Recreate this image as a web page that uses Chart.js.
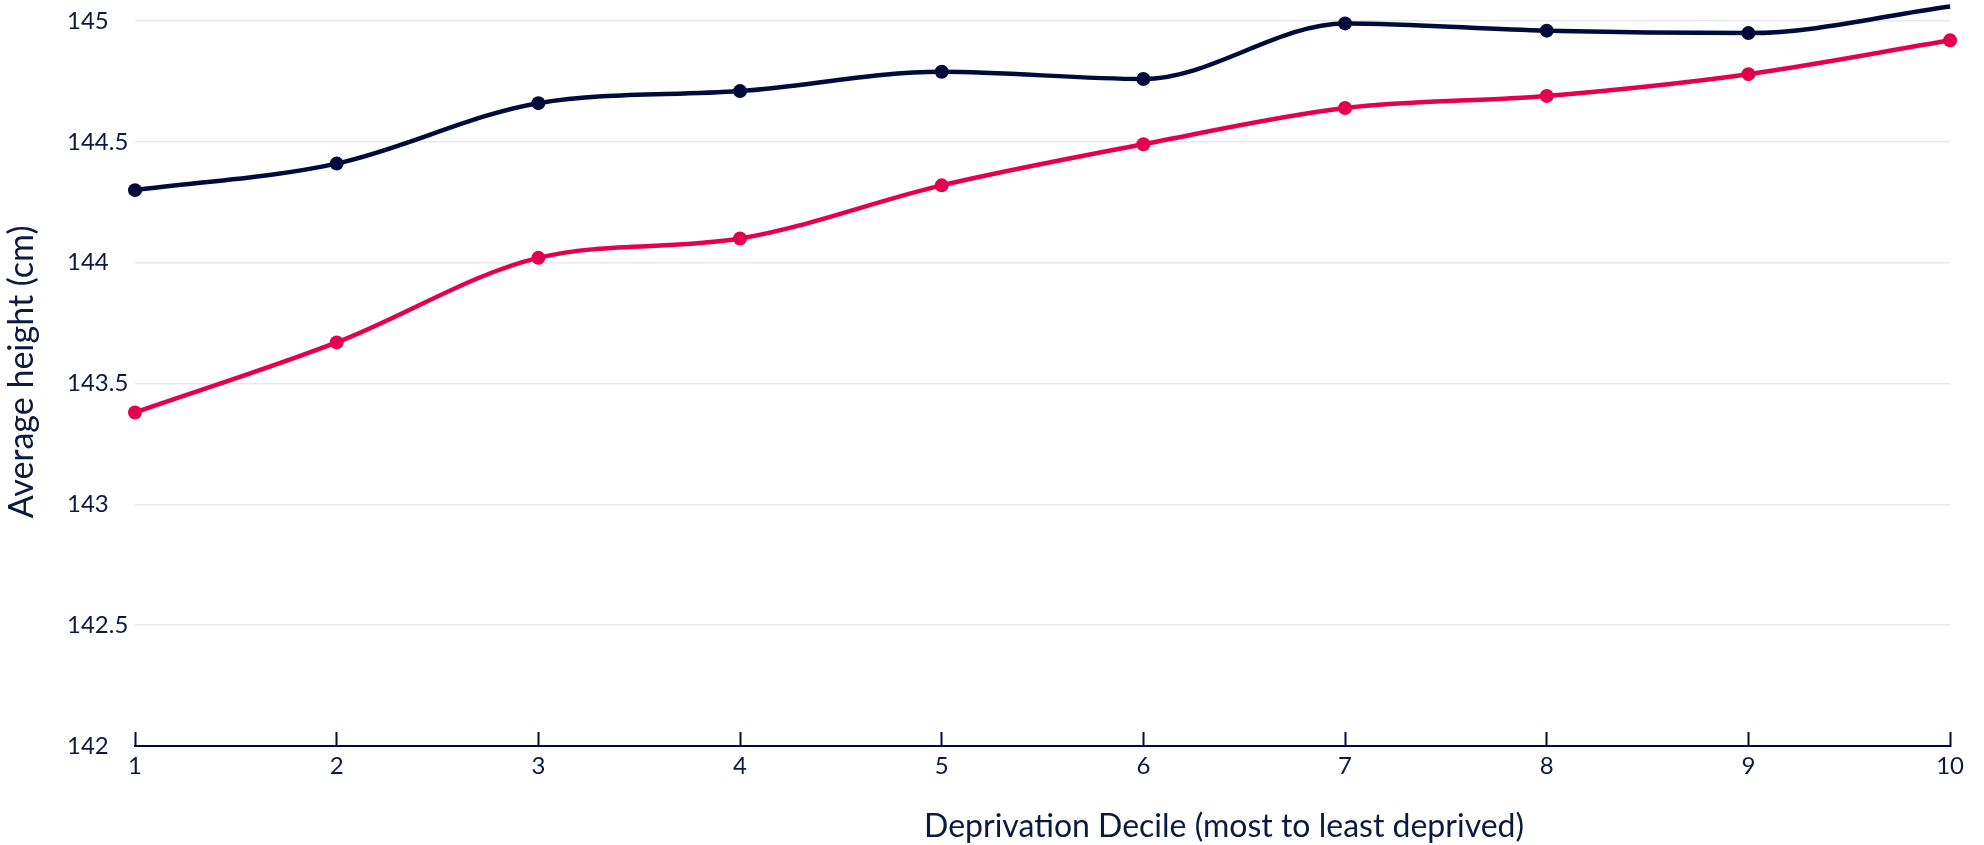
<!DOCTYPE html>
<html>
<head>
<meta charset="utf-8">
<script src="https://cdn.jsdelivr.net/npm/chart.js@4.4.1/dist/chart.umd.min.js"></script>
<style>
  html, body { margin: 0; padding: 0; background: #ffffff; }
  #wrap { width: 1984px; height: 845px; position: relative; }
</style>
</head>
<body>
<div id="wrap"><canvas id="c" width="1984" height="845"></canvas></div>
<script>
const deciles = ['1', '2', '3', '4', '5', '6', '7', '8', '9', '10'];
const seriesNavy = [144.30, 144.41, 144.66, 144.71, 144.79, 144.76, 144.99, 144.96, 144.95, 145.06];
const seriesRed = [143.38, 143.67, 144.02, 144.10, 144.32, 144.49, 144.64, 144.69, 144.78, 144.92];
const yMin = 142;
const yMax = 145;
const yStep = 0.5;
const xTitle = 'Deprivation Decile (most to least deprived)';
const yTitle = 'Average height (cm)';

const NAVY = '#000b3b';
const RED = '#e5004c';
const TEXT = '#0b1a3e';
const FONT = 'Lato';

const titlePlugin = {
  id: 'axisTitles',
  afterDraw(chart) {
    const ctx = chart.ctx;
    const area = chart.chartArea;
    ctx.save();
    ctx.fillStyle = TEXT;
    ctx.textAlign = 'center';
    ctx.textBaseline = 'alphabetic';
    ctx.font = '32px ' + FONT;
    ctx.fillText(xTitle, area.left + (area.right - area.left) * 0.6, 837);
    ctx.font = '34px ' + FONT;
    ctx.translate(33, area.top + (area.bottom - area.top) * 0.484);
    ctx.rotate(-Math.PI / 2);
    ctx.fillText(yTitle, 0, 0);
    ctx.restore();
  }
};

new Chart(document.getElementById('c'), {
  type: 'line',
  data: {
    labels: deciles,
    datasets: [
      {
        label: 'Series 1',
        data: seriesNavy,
        borderColor: NAVY,
        backgroundColor: NAVY,
        borderWidth: 4.5,
        pointRadius: 7,
        pointBorderWidth: 0,
        pointBackgroundColor: NAVY,
        cubicInterpolationMode: 'monotone',
        clip: false
      },
      {
        label: 'Series 2',
        data: seriesRed,
        borderColor: RED,
        backgroundColor: RED,
        borderWidth: 4.5,
        pointRadius: 7,
        pointBorderWidth: 0,
        pointBackgroundColor: RED,
        cubicInterpolationMode: 'monotone',
        clip: false
      }
    ]
  },
  options: {
    responsive: false,
    animation: false,
    devicePixelRatio: 1,
    layout: { padding: { left: 67, top: 21, right: 30, bottom: 0 } },
    plugins: {
      legend: { display: false },
      tooltip: { enabled: false },
      title: { display: false }
    },
    scales: {
      x: {
        type: 'category',
        offset: false,
        border: { display: true, color: NAVY, width: 2 },
        grid: {
          display: true,
          drawOnChartArea: false,
          drawTicks: true,
          tickLength: -14,
          tickWidth: 2,
          tickColor: NAVY,
          color: NAVY
        },
        ticks: {
          color: TEXT,
          font: { family: FONT, size: 24 },
          padding: 20,
          maxRotation: 0,
          autoSkip: false
        },
        afterFit(scale) { scale.height = 99; }
      },
      y: {
        min: yMin,
        max: yMax,
        border: { display: false },
        grid: {
          color: (c) => (c.tick && c.tick.value === yMin) ? 'rgba(0,0,0,0)' : '#e9e9e9',
          lineWidth: 1.5,
          drawTicks: false
        },
        ticks: {
          stepSize: yStep,
          color: TEXT,
          font: { family: FONT, size: 24 },
          mirror: true,
          crossAlign: 'near',
          padding: -68,
          callback: (v) => String(Number(Number(v).toFixed(2)))
        },
        afterFit(scale) { scale.width = 68; }
      }
    }
  },
  plugins: [titlePlugin]
});
</script>
</body>
</html>
